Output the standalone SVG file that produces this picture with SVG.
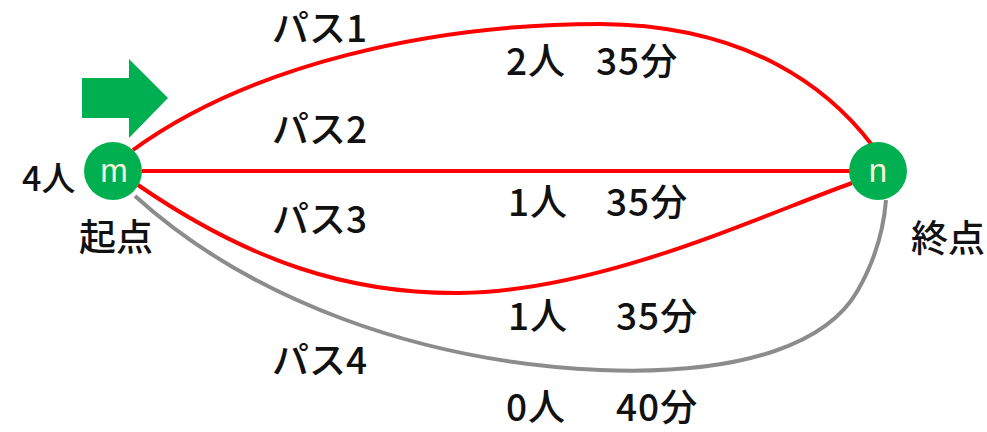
<svg xmlns="http://www.w3.org/2000/svg" width="987" height="432" viewBox="0 0 987 432">
<style>
text{font-family:"Noto Sans CJK JP","Noto Sans",sans-serif;fill:#111;}
.lbl{font-size:37px;font-weight:500;}
.num{letter-spacing:1px;}
.red{fill:none;stroke:#ff0000;stroke-width:4;}
.gray{fill:none;stroke:#8c8c8c;stroke-width:4;}
.node{fill:#00b050;}
.nt{font-family:"Liberation Sans",Arial,sans-serif;font-size:33px;fill:#f4f4d8;text-anchor:middle;}
</style>
<rect width="987" height="432" fill="#fff"/>
<g id="connectors">
<path class="gray" d="M135,196 C250,300 420,362 600,370 C750,376 830,340 858,290 C878,255 884,225 886,200"/>
<path class="red" d="M133,150 C250,65 430,24 600,24 C750,25 830,90 872,145"/>
<path class="red" d="M142,171 L850,171"/>
<path class="red" d="M138,185 C250,262 350,294 460,293 C600,291 750,220 852,183"/>
</g>
<g id="arrow">
<polygon fill="#00b050" points="82,78 129,78 129,59 168,98 129,138 129,118 82,118"/>
</g>
<g id="node-m">
<circle class="node" cx="113" cy="171" r="29"/>
<text class="nt" x="114" y="182">m</text>
</g>
<g id="node-n">
<circle class="node" cx="878" cy="171" r="29"/>
<text class="nt" x="878" y="182">n</text>
</g>
<g id="labels">
<text class="lbl" x="272" y="42">パス1</text>
<text class="lbl" x="272" y="143">パス2</text>
<text class="lbl" x="272" y="233">パス3</text>
<text class="lbl" x="272" y="374">パス4</text>
<text class="lbl num" x="506" y="75">2人</text>
<text class="lbl num" x="596" y="75">35分</text>
<text class="lbl num" x="508" y="216">1人</text>
<text class="lbl num" x="606" y="216">35分</text>
<text class="lbl num" x="508" y="330">1人</text>
<text class="lbl num" x="616" y="330">35分</text>
<text class="lbl num" x="506" y="421">0人</text>
<text class="lbl num" x="616" y="421">40分</text>
<text class="lbl" x="22" y="191" style="font-size:34px">4人</text>
<text class="lbl" x="79" y="251">起点</text>
<text class="lbl" x="911" y="252">終点</text>
</g>
</svg>
